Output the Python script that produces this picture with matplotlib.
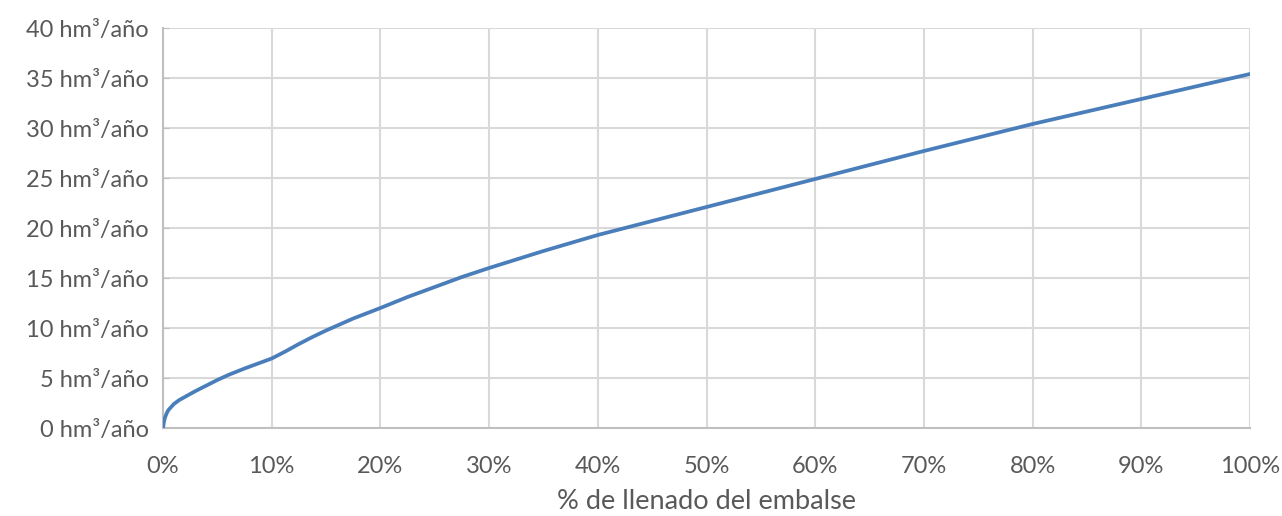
import matplotlib
matplotlib.use("Agg")
import matplotlib.pyplot as plt
from matplotlib.ticker import FuncFormatter

llenado = [0, 0.1, 0.2, 0.35, 0.5, 0.75, 1, 1.5, 2, 3, 4, 5, 6, 7.5, 8.75, 10, 11.25, 12.5, 13.75, 15, 17.5, 20, 22.5, 25, 27.5, 30, 35, 40, 50, 60, 70, 80, 90, 100]
volumen = [0, 0.7, 1.1, 1.5, 1.8, 2.1, 2.4, 2.8, 3.1, 3.7, 4.25, 4.8, 5.3, 5.95, 6.45, 6.95, 7.65, 8.4, 9.1, 9.75, 10.95, 12.0, 13.1, 14.1, 15.1, 16.0, 17.7, 19.3, 22.1, 24.9, 27.7, 30.4, 32.9, 35.4]
y_ticks = [0, 5, 10, 15, 20, 25, 30, 35, 40]
x_ticks = [0, 10, 20, 30, 40, 50, 60, 70, 80, 90, 100]
xlabel = "% de llenado del embalse"

plt.rcParams['font.family'] = ['Lato', 'DejaVu Sans']
fig = plt.figure(figsize=(12.82, 5.16), dpi=100)
ax = fig.add_axes([163/1282, 1-428/516, (1250-163)/1282, 400/516])

ax.plot(llenado, volumen, color='#4A7EBB', lw=2.7, solid_capstyle='round', zorder=3)
ax.set_xlim(0, 100)
ax.set_ylim(0, 40)
ax.set_xticks(x_ticks)
ax.set_yticks(y_ticks)
ax.xaxis.set_major_formatter(FuncFormatter(lambda v, p: f"{int(v)}%"))
ax.yaxis.set_major_formatter(FuncFormatter(lambda v, p: f"{int(v)} hm³/año"))
ax.grid(True, color='#D9D9D9', lw=1.5, zorder=0)
ax.set_axisbelow(True)
for s in ['top', 'right']:
    ax.spines[s].set_visible(False)
for s in ['left', 'bottom']:
    ax.spines[s].set_color('#BFBFBF')
    ax.spines[s].set_linewidth(1.5)
ax.tick_params(axis='x', length=0, pad=20, labelsize=17, labelcolor='#595959')
ax.tick_params(axis='y', length=4, direction='in', color='#BFBFBF', pad=10, labelsize=17, labelcolor='#595959')
ax.set_xlabel(xlabel, fontsize=19.5, color='#595959', labelpad=9)
fig.savefig("out.png", dpi=100)
